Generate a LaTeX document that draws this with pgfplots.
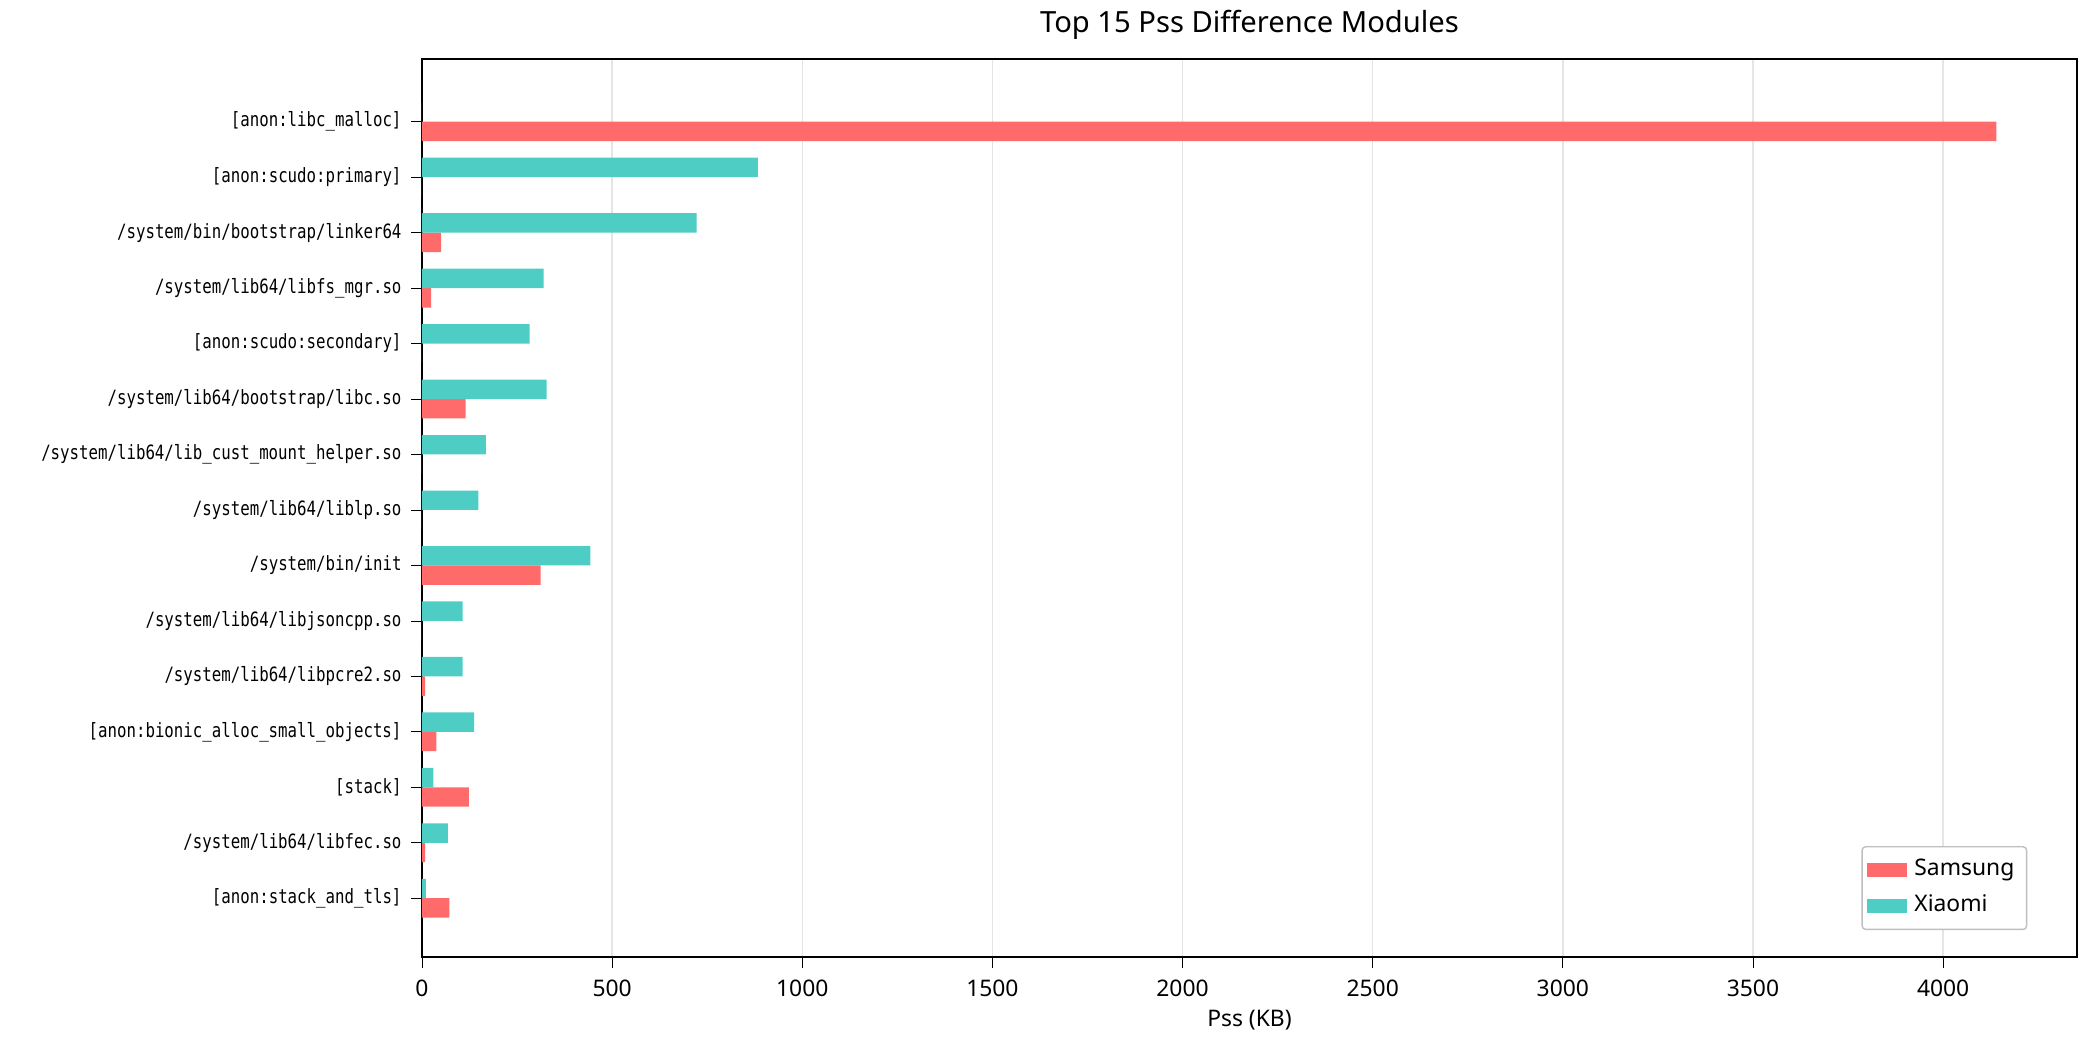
\documentclass[border=0pt]{standalone}
\usepackage{pgfplots}
\pgfplotsset{compat=1.18}
\usepackage{fontspec}
\setmainfont{Noto Sans}
\newfontfamily\mono{DejaVu Sans Mono}
\definecolor{sam}{HTML}{FF6B6B}
\definecolor{xia}{HTML}{4ECDC4}
\begin{document}
\begin{tikzpicture}
\path[use as bounding box] (-4.22cm,-0.93cm) rectangle (16.78cm,9.57cm);
\begin{axis}[at={(0,0)}, anchor=south west, scale only axis,
 width=16.55cm, height=8.98cm,
 xmin=0, xmax=4352, ymin=-1.13, ymax=15.06, y dir=reverse,
 ytick={0,...,14},
 yticklabels={{[anon:libc\_malloc]},{[anon:scudo:primary]},{/system/bin/bootstrap/linker64},{/system/lib64/libfs\_mgr.so},{[anon:scudo:secondary]},{/system/lib64/bootstrap/libc.so},{/system/lib64/lib\_cust\_mount\_helper.so},{/system/lib64/liblp.so},{/system/bin/init},{/system/lib64/libjsoncpp.so},{/system/lib64/libpcre2.so},{[anon:bionic\_alloc\_small\_objects]},{[stack]},{/system/lib64/libfec.so},{[anon:stack\_and\_tls]}},
 yticklabel style={font=\mono\fontsize{5.6}{6}\selectfont, xscale=0.8},
 xticklabel style={font=\fontsize{6.5}{7}\selectfont},
 /pgf/number format/assume math mode=true,
 scaled x ticks=false, xtick={0,500,...,4000},
 /pgf/number format/1000 sep={},
 xmajorgrids, major grid style={gray!20},
 tick align=outside, tick style={black}, xtick pos=bottom, ytick pos=left,
 major tick length=3pt,
 xlabel={Pss (KB)}, xlabel style={font=\fontsize{6.5}{7}\selectfont, yshift=3pt},
 title={Top 15 Pss Difference Modules}, title style={font=\fontsize{8.3}{9}\selectfont, yshift=-4pt},
 legend pos=south east, legend cell align=left,
 legend style={font=\fontsize{6.5}{7}\selectfont, draw=gray!50, rounded corners=1pt, inner sep=1.5pt},
 legend image code/.code={\fill[#1, sharp corners] (0cm,-0.07cm) rectangle (0.4cm,0.07cm);},
]
\addplot[xbar, bar width=0.35, bar shift=0.175, fill=sam, draw=none] coordinates {
(4140,0) (0,1) (50,2) (24,3) (0,4) (115,5) (0,6) (0,7) (312,8) (0,9) (8,10) (38,11) (123,12) (8,13) (72,14)};
\addlegendentry{Samsung}
\addplot[xbar, bar width=0.35, bar shift=-0.175, fill=xia, draw=none] coordinates {
(0,0) (883,1) (722,2) (320,3) (283,4) (328,5) (168,6) (148,7) (443,8) (107,9) (107,10) (137,11) (30,12) (68,13) (10,14)};
\addlegendentry{Xiaomi}
\end{axis}
\end{tikzpicture}
\end{document}
